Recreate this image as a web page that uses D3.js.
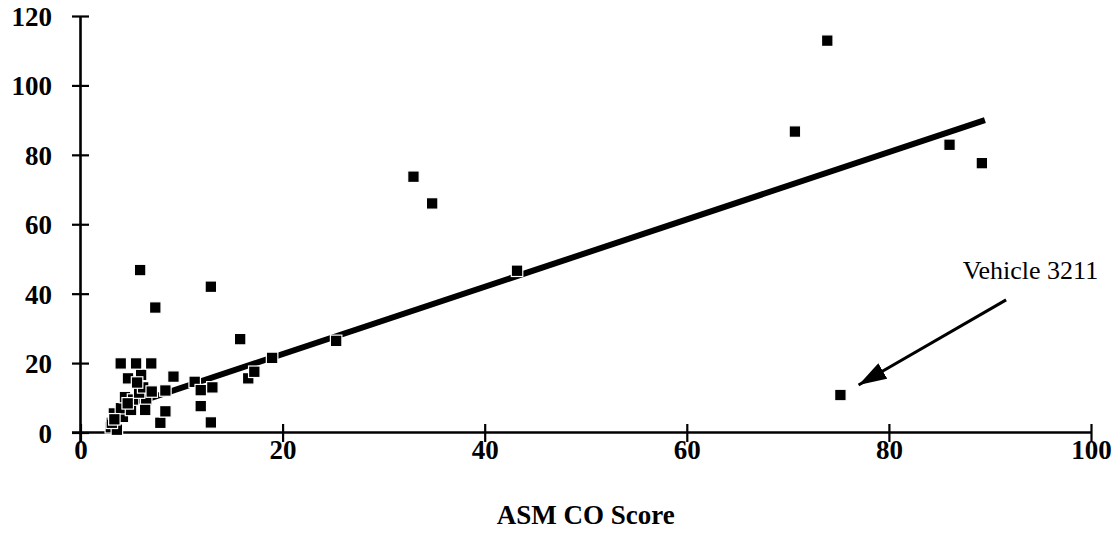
<!DOCTYPE html>
<html>
<head>
<meta charset="utf-8">
<script src="https://cdn.jsdelivr.net/npm/d3@7"></script>
<style>
  html, body { margin: 0; padding: 0; background: #fff; }
  svg { display: block; }
  text { font-family: "Liberation Serif", "Times New Roman", serif; fill: #000; }
</style>
</head>
<body>
<svg id="chart" width="1113" height="546"></svg>
<script>
// ---- data ----
const xTickValues = [0, 20, 40, 60, 80, 100];
const yTickValues = [0, 20, 40, 60, 80, 100, 120];
const xTitle = "ASM CO Score";

// ASM CO score (x) and paired measurement (y) for each vehicle
const asmCO = [
  3.0, 3.6, 3.1, 3.3, 4.2, 4.0, 4.4, 5.0, 5.2, 6.5, 5.8, 6.2,
  3.35, 4.67, 6.4, 4.7, 6.0, 5.6, 3.98, 5.5, 7.0,
  7.9, 8.4, 7.05, 8.4, 9.2, 11.3, 11.9, 13.05, 11.9, 12.9,
  16.6, 17.2, 18.96, 15.8, 7.4, 5.9, 12.9,
  25.3, 43.2, 32.95, 34.8,
  70.7, 73.9, 86.0, 89.2, 75.2
];
const otherScore = [
  1.5, 0.8, 2.8, 5.5, 4.5, 7.0, 10.2, 6.5, 9.5, 9.5, 11.5, 13.0,
  3.8, 8.4, 6.5, 15.6, 16.6, 14.4, 19.9, 19.9, 19.9,
  2.8, 6.1, 11.8, 12.1, 16.1, 14.6, 12.2, 13.0, 7.6, 2.9,
  15.6, 17.5, 21.5, 26.9, 36.0, 46.8, 42.0,
  26.4, 46.6, 73.7, 66.0,
  86.7, 112.9, 82.9, 77.6, 10.8
];

// fitted trend line
const trendX = [3.0, 89.5];
const trendY = [6.1, 90.0];

// annotation
const noteText = "Vehicle 3211";
const noteTextAt = [87.3, 44.2];
const arrowFrom = [91.6, 38.2];
const arrowTo = [77.0, 13.7];

// ---- drawing ----
const svg = d3.select("#chart");
svg.append("rect").attr("width", 1113).attr("height", 546).attr("fill", "#fff");

const x = d3.scaleLinear().domain([0, 100]).range([80.5, 1091]);
const y = d3.scaleLinear().domain([0, 120]).range([432.5, 16]);

// axes
const xAxis = svg.append("g")
  .attr("transform", `translate(0,${y(0)})`)
  .call(d3.axisBottom(x).tickValues(xTickValues).tickSize(0).tickPadding(0).tickFormat(d3.format("d")));
const yAxis = svg.append("g")
  .attr("transform", `translate(${x(0)},0)`)
  .call(d3.axisLeft(y).tickValues(yTickValues).tickSize(0).tickPadding(0).tickFormat(d3.format("d")));

[xAxis, yAxis].forEach(g => {
  g.select(".domain").remove();
  g.selectAll("text").attr("font-family", "Liberation Serif, serif")
    .attr("font-weight", "bold").attr("font-size", 27).attr("fill", "#000");
});

// axis lines
svg.append("line").attr("x1", 72).attr("x2", x(100)).attr("y1", y(0)).attr("y2", y(0))
  .attr("stroke", "#000").attr("stroke-width", 2.6);
svg.append("line").attr("x1", x(0)).attr("x2", x(0)).attr("y1", y(120)).attr("y2", y(0) + 10)
  .attr("stroke", "#000").attr("stroke-width", 2.6);

// crossing ticks
xAxis.selectAll(".tick line").attr("y1", -8.5).attr("y2", 9.5).attr("stroke", "#000").attr("stroke-width", 2.2);
yAxis.selectAll(".tick line").attr("x1", -8.5).attr("x2", 8.5).attr("stroke", "#000").attr("stroke-width", 2.2);

xAxis.selectAll("text").attr("dy", null).attr("y", 26);
yAxis.selectAll("text").attr("dy", null).attr("x", -28.5).attr("y", 9.5);

// trend line
const trend = trendX.map((v, i) => [v, trendY[i]]);
svg.append("path")
  .attr("d", d3.line().x(d => x(d[0])).y(d => y(d[1]))(trend))
  .attr("fill", "none").attr("stroke", "#000").attr("stroke-width", 6);

// points
const pts = asmCO.map((v, i) => ({ x: v, y: otherScore[i] }));
const s = 11.5;
svg.append("g").selectAll("rect").data(pts).join("rect")
  .attr("x", d => x(d.x) - s / 2).attr("y", d => y(d.y) - s / 2)
  .attr("width", s).attr("height", s)
  .attr("fill", "#000").attr("stroke", "#fff").attr("stroke-width", 1.2);

// x title
svg.append("text").attr("x", (x(0) + x(100)) / 2).attr("y", 524)
  .attr("text-anchor", "middle").attr("font-weight", "bold").attr("font-size", 27)
  .text(xTitle);

// annotation
svg.append("defs").append("marker")
  .attr("id", "arrowhead").attr("viewBox", "0 0 28 18").attr("refX", 28).attr("refY", 9)
  .attr("markerWidth", 28).attr("markerHeight", 18).attr("markerUnits", "userSpaceOnUse")
  .attr("orient", "auto")
  .append("path").attr("d", "M0,0 L28,9 L0,18 Z").attr("fill", "#000");
svg.append("line")
  .attr("x1", x(arrowFrom[0])).attr("y1", y(arrowFrom[1]))
  .attr("x2", x(arrowTo[0])).attr("y2", y(arrowTo[1]))
  .attr("stroke", "#000").attr("stroke-width", 3).attr("marker-end", "url(#arrowhead)");
svg.append("text").attr("x", x(noteTextAt[0])).attr("y", y(noteTextAt[1]))
  .attr("font-size", 26).text(noteText);
</script>
</body>
</html>
